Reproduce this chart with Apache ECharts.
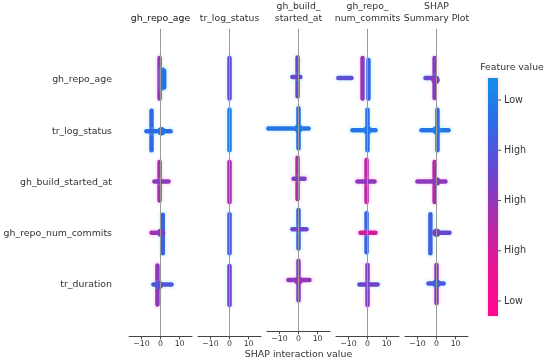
<!DOCTYPE html>
<html>
<head>
<meta charset="utf-8">
<script src="https://cdn.jsdelivr.net/npm/echarts@6/dist/echarts.min.js"></script>
<style>html,body{margin:0;padding:0;background:#fff}#c{width:550px;height:364px}</style>
</head>
<body>
<div id="c"></div>
<script>
// ---------- data ----------
const features = ["gh_repo_age", "tr_log_status", "gh_build_started_at", "gh_repo_num_commits", "tr_duration"];
const columnTitles = ["gh_repo_age", "tr_log_status", "gh_build_\nstarted_at", "gh_repo_\nnum_commits", "SHAP\nSummary Plot"];
const xTicks = [-10, 0, 10];
const colorbarLabels = ["Low", "High", "High", "High", "Low"];
const xAxisTitle = "SHAP interaction value";
const colorbarTitle = "Feature value";

// dense point runs per panel: [shap1, row1, shap2, row2, featureColour(0 blue .. 1 pink)]
const panel1Runs = [
  [-0.5, -0.43, -0.5, 0.36, 0.50], [1.1, -0.2, 1.1, 0.16, 0.22], [1.9, -0.18, 1.9, 0.14, 0.18],
  [-4.7, 0.60, -4.7, 1.37, 0.22], [-7.4, 1.0, 5.3, 1.0, 0.20],
  [-0.5, 1.60, -0.5, 2.35, 0.56], [-3.2, 1.98, 4.2, 1.98, 0.50],
  [1.2, 2.63, 1.2, 3.38, 0.24], [-4.7, 2.98, 0, 2.98, 0.56],
  [-1.6, 3.62, -1.6, 4.38, 0.50], [-3.7, 3.99, 5.8, 3.99, 0.32]
];
const panel1Blobs = [[0.5, 1.0, 0.15], [-0.8, 4.0, 0.32], [0.3, 2.98, 0.45]];

const panel2Runs = [
  [0, -0.43, 0, 0.36, 0.38],
  [0, 0.58, 0, 1.37, 0.10],
  [0, 1.60, 0, 2.38, 0.56],
  [0, 2.62, 0, 3.38, 0.30],
  [0, 3.63, 0, 4.39, 0.42]
];
const panel2Blobs = [];

const panel3Runs = [
  [-0.5, -0.43, -0.5, 0.34, 0.42], [-3.2, -0.04, 1.0, -0.04, 0.40],
  [-15.8, 0.98, 5.3, 0.98, 0.15], [0, 0.58, 0, 1.37, 0.20],
  [-0.5, 1.56, -0.5, 2.38, 0.60], [-2.6, 1.98, 3.2, 1.98, 0.45],
  [0, 2.60, 0, 3.36, 0.25], [-3.2, 2.98, 4.2, 2.98, 0.42],
  [0, 3.61, 0, 4.39, 0.45], [-5.3, 3.99, 5.8, 3.99, 0.50]
];
const panel3Blobs = [[0, 0.98, 0.12], [0, 4.0, 0.55]];

const panel4Runs = [
  [-15.3, -0.04, -8.4, -0.04, 0.35], [-2.6, -0.43, -2.6, 0.36, 0.52], [0.5, -0.39, 0.5, 0.36, 0.22],
  [-7.9, 0.98, 4.2, 0.98, 0.15], [0, 0.58, 0, 1.37, 0.18],
  [-0.5, 1.56, -0.5, 2.38, 0.64], [-5.3, 1.98, 3.7, 1.98, 0.50],
  [-0.5, 2.60, -0.5, 3.36, 0.25], [-3.7, 2.98, 4.2, 2.98, 0.70],
  [0, 3.61, 0, 4.39, 0.45], [-4.2, 3.99, 5.3, 3.99, 0.42]
];
const panel4Blobs = [[0, 0.98, 0.12]];

const panel5Runs = [
  [-1.0, -0.43, -1.0, 0.35, 0.48], [-5.8, -0.04, 0, -0.04, 0.40],
  [-7.9, 0.98, 6.3, 0.98, 0.15], [0.5, 0.58, 0.5, 1.37, 0.20],
  [-1.0, 1.60, -1.0, 2.38, 0.60], [-10.0, 1.98, 4.7, 1.98, 0.50],
  [-3.2, 2.62, -3.2, 3.38, 0.25], [0, 2.98, 6.8, 2.98, 0.40],
  [0, 3.61, 0, 4.35, 0.50], [-4.2, 3.97, 3.7, 3.97, 0.30]
];
const panel5Blobs = [[-0.5, 0.0, 0.50], [0, 0.98, 0.10], [0, 1.98, 0.50], [0, 2.98, 0.45], [0, 3.97, 0.25]];

const panelRuns = [panel1Runs, panel2Runs, panel3Runs, panel4Runs, panel5Runs];
const panelBlobs = [panel1Blobs, panel2Blobs, panel3Blobs, panel4Blobs, panel5Blobs];

// ---------- styling ----------
const cmap = ['#1390e8', '#2f6ae6', '#6a46d0', '#b02ca8', '#ea1494', '#ff0a8c'];
function hex2rgb(h) { return [parseInt(h.substr(1,2),16), parseInt(h.substr(3,2),16), parseInt(h.substr(5,2),16)]; }
function colorAt(t, a) {
  t = Math.max(0, Math.min(1, t));
  const s = t * (cmap.length - 1), i = Math.min(cmap.length - 2, Math.floor(s)), f = s - i;
  const c0 = hex2rgb(cmap[i]), c1 = hex2rgb(cmap[i + 1]);
  const c = c0.map((v, k) => Math.round(v + (c1[k] - v) * f));
  return a == null ? `rgb(${c[0]},${c[1]},${c[2]})` : `rgba(${c[0]},${c[1]},${c[2]},${a})`;
}

const FONT = 'DejaVu Sans';
const TXT = '#333333';
const gridLeft0 = 129, gridStep = 69, gridW = 63, gridTop = 28.75, gridH = 307.5;

const grids = [], xAxes = [], yAxes = [], series = [], graphics = [];
for (let p = 0; p < 5; p++) {
  grids.push({ left: gridLeft0 + p * gridStep, top: gridTop, width: gridW, height: gridH });
  xAxes.push({
    type: 'value', gridIndex: p, min: -16.5, max: 16.5, position: 'bottom',
    axisLine: { show: true, onZero: false, lineStyle: { color: '#444', width: 1 } },
    axisTick: { show: true, customValues: xTicks, length: 3, lineStyle: { color: '#444' } },
    axisLabel: { show: true, customValues: xTicks, color: TXT, fontFamily: FONT, fontSize: 7.8, margin: 4,
      formatter: v => (v < 0 ? '\u2212' + Math.abs(v) : String(v)) },
    splitLine: { show: false },
    name: p === 2 ? xAxisTitle : '', nameLocation: 'middle', nameGap: 19,
    nameTextStyle: { color: TXT, fontFamily: FONT, fontSize: 9.4 }
  });
  yAxes.push({
    type: 'value', gridIndex: p, min: -1, max: 5, interval: 1, inverse: true,
    axisLine: { show: false, onZero: false }, axisTick: { show: false }, splitLine: { show: false },
    axisLabel: { show: p === 0, color: TXT, fontFamily: FONT, fontSize: 9.4, margin: 17,
      formatter: v => (v >= 0 && v < features.length ? features[v] : '') }
  });
  // zero line
  series.push({
    type: 'scatter', xAxisIndex: p, yAxisIndex: p, data: [], z: 1,
    markLine: { silent: true, symbol: 'none', label: { show: false },
      lineStyle: { color: '#9a9a9a', width: 1, type: 'solid' }, data: [{ xAxis: 0 }] }
  });
  series.push({
    type: 'custom', xAxisIndex: p, yAxisIndex: p, z: 3,
    encode: { x: [0, 2], y: [1, 3] },
    data: panelRuns[p],
    renderItem: function (params, api) {
      const a = api.coord([api.value(0), api.value(1)]);
      const b = api.coord([api.value(2), api.value(3)]);
      const t = api.value(4);
      return {
        type: 'group', children: [
          { type: 'line', shape: { x1: a[0], y1: a[1], x2: b[0], y2: b[1] },
            style: { stroke: t < 0.45 ? 'rgba(120,230,255,0.16)' : 'rgba(255,140,230,0.16)', lineWidth: 9, lineCap: 'round' } },
          { type: 'line', shape: { x1: a[0], y1: a[1], x2: b[0], y2: b[1] },
            style: { stroke: colorAt(t), lineWidth: 4.5, lineCap: 'round' } }
        ]
      };
    }
  });
  series.push({
    type: 'scatter', xAxisIndex: p, yAxisIndex: p, z: 4, symbolSize: 8.5,
    data: panelBlobs[p],
    itemStyle: { color: params => colorAt(params.data[2]), opacity: 1 }
  });
  graphics.push({
    type: 'text', x: gridLeft0 + p * gridStep + gridW / 2, y: 25, z: 10,
    style: { text: columnTitles[p], textAlign: 'center', textVerticalAlign: 'bottom',
      fill: p === 0 ? '#111' : TXT, font: `9.3px "${FONT}"`, lineHeight: 12 }
  });
}

// colorbar
const cbX = 488, cbY = 78, cbW = 10, cbH = 238;
graphics.push({ type: 'rect', shape: { x: cbX - 2, y: cbY - 2, width: cbW + 4, height: cbH + 4 },
  style: { fill: 'rgba(230,120,220,0.12)' }, z: 9 });
graphics.push({
  type: 'rect', shape: { x: cbX, y: cbY, width: cbW, height: cbH }, z: 10,
  style: { fill: new echarts.graphic.LinearGradient(0, 0, 0, 1,
    cmap.map((c, i) => ({ offset: i / (cmap.length - 1), color: c }))) }
});
graphics.push({ type: 'text', x: cbX + 24, y: 68, z: 10,
  style: { text: colorbarTitle, textAlign: 'center', textVerticalAlign: 'middle', fill: TXT, font: `9.3px "${FONT}"` } });
colorbarLabels.forEach((lab, i) => {
  const y = 100 + i * 50.25;
  graphics.push({ type: 'line', shape: { x1: cbX + cbW, y1: y, x2: cbX + cbW + 3, y2: y }, z: 10,
    style: { stroke: '#555', lineWidth: 1 } });
  graphics.push({ type: 'text', x: cbX + cbW + 6, y: y, z: 10,
    style: { text: lab, textAlign: 'left', textVerticalAlign: 'middle', fill: TXT, font: `9.6px "${FONT}"` } });
});

const chart = echarts.init(document.getElementById('c'), null, { renderer: 'canvas' });
chart.setOption({
  animation: false,
  backgroundColor: '#fff',
  grid: grids, xAxis: xAxes, yAxis: yAxes, series: series, graphic: graphics
});
</script>
</body>
</html>
